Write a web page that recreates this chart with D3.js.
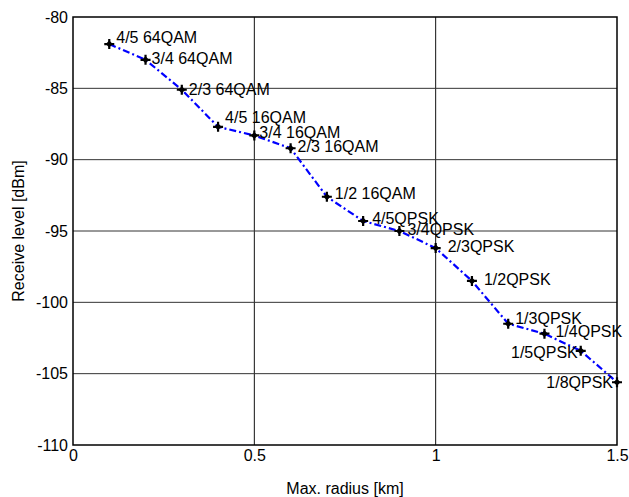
<!DOCTYPE html>
<html>
<head>
<meta charset="utf-8">
<script src="https://cdn.jsdelivr.net/npm/d3@7"></script>
<style>
  body { margin: 0; background: #fff; }
  text { font-family: "Liberation Sans", Arial, sans-serif; }
</style>
</head>
<body>
<script>

let width = 629;
let height = 497;

// Data
let radius = [0.1, 0.2, 0.3, 0.4, 0.5, 0.6, 0.7, 0.8, 0.9, 1.0, 1.1, 1.2, 1.3, 1.4, 1.5];
let level = [-81.9, -83.0, -85.1, -87.7, -88.3, -89.2, -92.6, -94.3, -95.0, -96.2, -98.5, -101.5, -102.2, -103.4, -105.6];
let modes = ["4/5 64QAM", "3/4 64QAM", "2/3 64QAM", "4/5 16QAM", "3/4 16QAM", "2/3 16QAM",
    "1/2 16QAM", "4/5QPSK", "3/4QPSK", "2/3QPSK", "1/2QPSK", "1/3QPSK", "1/4QPSK", "1/5QPSK", "1/8QPSK"];
let xTicks = [0, 0.5, 1, 1.5];
let yTicks = [-110, -105, -100, -95, -90, -85, -80];

// label placement (pixel offsets from the marker)
let labelDx = [7, 6, 7, 7, 5, 7, 8, 9, 8, 12, 12, 7, 11, -3, -4];
let labelDy = [-7, -1, 0, -9, -3, -2, -3, -3, -2, -2, -2, -5, -2, 2, 0];
let labelAnchor = ["start", "start", "start", "start", "start", "start", "start", "start", "start",
    "start", "start", "start", "start", "end", "end"];

let margin = {top: 17, right: 12, bottom: 52, left: 73};
let fontSize = 16;

let svg = d3.select("body").append("svg")
    .attr("width", width)
    .attr("height", height);

let x = d3.scaleLinear()
    .domain([0, 1.5])
    .range([margin.left, width - margin.right]);

let y = d3.scaleLinear()
    .domain([-110, -80])
    .range([height - margin.bottom, margin.top]);

// grid
svg.append("g")
    .selectAll("line")
    .data(xTicks.slice(1, -1))
    .enter().append("line")
    .attr("x1", d => x(d)).attr("x2", d => x(d))
    .attr("y1", y(-110)).attr("y2", y(-80))
    .attr("stroke", "#111").attr("stroke-width", 1);

svg.append("g")
    .selectAll("line")
    .data(yTicks.slice(1, -1))
    .enter().append("line")
    .attr("x1", x(0)).attr("x2", x(1.5))
    .attr("y1", d => y(d)).attr("y2", d => y(d))
    .attr("stroke", "#333").attr("stroke-width", 1);

// frame
svg.append("rect")
    .attr("x", x(0)).attr("y", y(-80))
    .attr("width", x(1.5) - x(0))
    .attr("height", y(-110) - y(-80))
    .attr("fill", "none")
    .attr("stroke", "#000")
    .attr("stroke-width", 1.5);

// axes tick labels
let xAxis = d3.axisBottom(x).tickValues(xTicks).tickSize(0).tickPadding(5)
    .tickFormat(d => String(d));
let gx = svg.append("g")
    .attr("transform", "translate(0," + y(-110) + ")")
    .call(xAxis);
gx.select(".domain").remove();
gx.selectAll("text").attr("font-size", fontSize).attr("fill", "#000")
    .style("font-family", "Liberation Sans, Arial, sans-serif");

let yAxis = d3.axisLeft(y).tickValues(yTicks).tickSize(0).tickPadding(5)
    .tickFormat(d => String(d));
let gy = svg.append("g")
    .attr("transform", "translate(" + x(0) + ",0)")
    .call(yAxis);
gy.select(".domain").remove();
gy.selectAll("text").attr("font-size", fontSize).attr("fill", "#000")
    .style("font-family", "Liberation Sans, Arial, sans-serif");

// axis titles
svg.append("text")
    .attr("x", (x(0) + x(1.5)) / 2)
    .attr("y", 494)
    .attr("text-anchor", "middle")
    .attr("font-size", fontSize)
    .text("Max. radius [km]");

svg.append("text")
    .attr("transform", "translate(24," + (y(-95)) + ") rotate(-90)")
    .attr("text-anchor", "middle")
    .attr("font-size", fontSize)
    .text("Receive level [dBm]");

let points = radius.map((r, i) => ({r: r, v: level[i], m: modes[i], i: i}));

// line
let line = d3.line()
    .x(d => x(d.r))
    .y(d => y(d.v));

svg.append("path")
    .datum(points)
    .attr("d", line)
    .attr("fill", "none")
    .attr("stroke", "#0000ff")
    .attr("stroke-width", 2.2)
    .attr("stroke-dasharray", "7,3,2,3");

// markers
let mk = svg.append("g").selectAll("g")
    .data(points)
    .enter().append("g")
    .attr("transform", d => "translate(" + x(d.r) + "," + y(d.v) + ")");

mk.append("path")
    .attr("d", "M-5,0H5M0,-5V5")
    .attr("stroke", "#000")
    .attr("stroke-width", 2.2);
mk.append("path")
    .attr("d", "M0,-3.5L3.5,0L0,3.5L-3.5,0Z")
    .attr("fill", "#000");

// labels
svg.append("g").selectAll("text")
    .data(points)
    .enter().append("text")
    .attr("x", d => x(d.r) + labelDx[d.i])
    .attr("y", d => y(d.v) + labelDy[d.i])
    .attr("dy", "0.35em")
    .attr("text-anchor", d => labelAnchor[d.i])
    .attr("font-size", fontSize)
    .text(d => d.m);

</script>
</body>
</html>
